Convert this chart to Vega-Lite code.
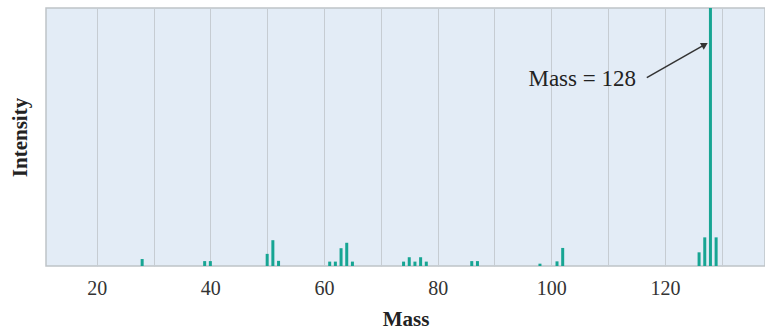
{
  "$schema": "https://vega.github.io/schema/vega-lite/v6.json",
  "width": 719,
  "height": 258,
  "autosize": "none",
  "padding": {"left": 46, "top": 8, "right": 0, "bottom": 63},
  "background": "white",
  "config": {
    "view": {"fill": "#e3ecf6", "stroke": "#bfc3c7", "strokeWidth": 1.5},
    "font": "Liberation Serif"
  },
  "datasets": {
    "peaks": [
      {"mass": 28, "intensity": 2.7},
      {"mass": 39, "intensity": 1.9},
      {"mass": 40, "intensity": 1.9},
      {"mass": 50, "intensity": 4.7},
      {"mass": 51, "intensity": 10},
      {"mass": 52, "intensity": 2},
      {"mass": 61, "intensity": 1.7},
      {"mass": 62, "intensity": 1.7},
      {"mass": 63, "intensity": 6.9},
      {"mass": 64, "intensity": 9},
      {"mass": 65, "intensity": 1.7},
      {"mass": 74, "intensity": 1.7},
      {"mass": 75, "intensity": 3.4},
      {"mass": 76, "intensity": 1.7},
      {"mass": 77, "intensity": 3.4},
      {"mass": 78, "intensity": 1.7},
      {"mass": 86, "intensity": 1.9},
      {"mass": 87, "intensity": 1.9},
      {"mass": 98, "intensity": 0.9},
      {"mass": 101, "intensity": 1.8},
      {"mass": 102, "intensity": 7},
      {"mass": 126, "intensity": 5.3},
      {"mass": 127, "intensity": 11.1},
      {"mass": 128, "intensity": 100},
      {"mass": 129, "intensity": 11.1}
    ],
    "arrow": [
      {"mass": 116.8, "intensity": 73.0},
      {"mass": 127.0, "intensity": 85.8}
    ],
    "head": [
      {"mass": 127.0, "intensity": 85.8}
    ],
    "label": [
      {"mass": 115.6, "intensity": 69.8, "text": "Mass = 128"}
    ]
  },
  "layer": [
    {
      "data": {"name": "peaks"},
      "mark": {"type": "rule", "strokeWidth": 3, "color": "#17a593"},
      "encoding": {
        "x": {
          "field": "mass", "type": "quantitative",
          "scale": {"domain": [11.08, 137.6], "nice": false, "zero": false},
          "axis": {
            "values": [20, 30, 40, 50, 60, 70, 80, 90, 100, 110, 120, 130],
            "labelExpr": "datum.value % 20 == 0 ? datum.label : ''",
            "title": "Mass",
            "titleFont": "Liberation Serif",
            "titleFontSize": 21,
            "titleFontWeight": "bold",
            "titleColor": "#222",
            "titlePadding": 10,
            "labelFont": "Liberation Serif",
            "labelFontSize": 20,
            "labelColor": "#333",
            "labelPadding": 12,
            "ticks": false,
            "domain": false,
            "grid": true,
            "gridColor": "#c6ccd2",
            "gridWidth": 1,
            "labelFlush": false,
            "labelOverlap": false
          }
        },
        "y": {
          "field": "intensity", "type": "quantitative",
          "scale": {"domain": [0, 100], "nice": false},
          "axis": {
            "title": "Intensity",
            "titleFont": "Liberation Serif",
            "titleFontSize": 21,
            "titleFontWeight": "bold",
            "titleColor": "#222",
            "titlePadding": 16,
            "labels": false,
            "ticks": false,
            "domain": false,
            "grid": false
          }
        },
        "y2": {"datum": 0}
      }
    },
    {
      "data": {"name": "arrow"},
      "mark": {"type": "line", "color": "#333", "strokeWidth": 1.5},
      "encoding": {
        "x": {"field": "mass", "type": "quantitative"},
        "y": {"field": "intensity", "type": "quantitative"}
      }
    },
    {
      "data": {"name": "head"},
      "mark": {"type": "point", "shape": "triangle-right", "filled": true, "color": "#333", "size": 60, "angle": 330.4, "opacity": 1},
      "encoding": {
        "x": {"field": "mass", "type": "quantitative"},
        "y": {"field": "intensity", "type": "quantitative"}
      }
    },
    {
      "data": {"name": "label"},
      "mark": {"type": "text", "align": "right", "baseline": "alphabetic", "font": "Liberation Serif", "fontSize": 23, "color": "#222", "dx": -4},
      "encoding": {
        "x": {"field": "mass", "type": "quantitative"},
        "y": {"field": "intensity", "type": "quantitative"},
        "text": {"field": "text"}
      }
    }
  ]
}
